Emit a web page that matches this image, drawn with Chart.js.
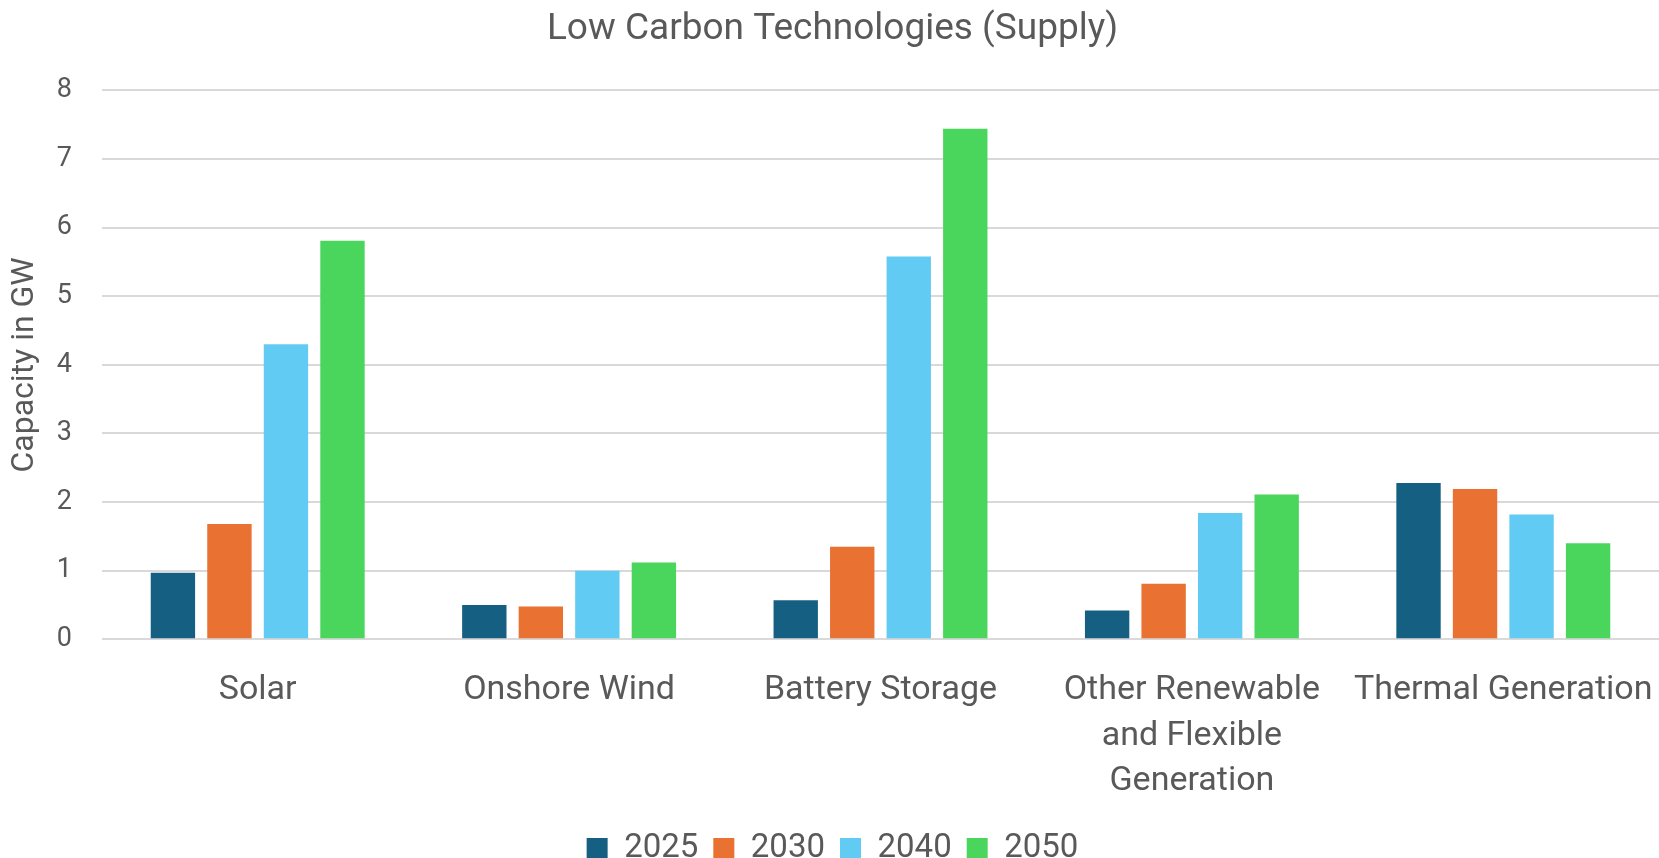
<!DOCTYPE html>
<html>
<head>
<meta charset="utf-8">
<title>Low Carbon Technologies (Supply)</title>
<script src="https://cdn.jsdelivr.net/npm/chart.js@4/dist/chart.umd.min.js"></script>
<style>
  html, body { margin: 0; padding: 0; background: #fff; overflow: hidden; }
  #wrap { width: 1659px; height: 858px; }
</style>
</head>
<body>
<div id="wrap"><canvas id="chart" width="1659" height="858"></canvas></div>
<script>
// categories (multi-line where the original wraps)
const categories = [
  'Solar',
  'Onshore Wind',
  'Battery Storage',
  ['Other Renewable', 'and Flexible', 'Generation'],
  'Thermal Generation'
];

// capacity in GW
const years = ['2025', '2030', '2040', '2050'];
const values2025 = [0.97, 0.50, 0.57, 0.42, 2.28];
const values2030 = [1.68, 0.48, 1.35, 0.81, 2.19];
const values2040 = [4.30, 1.00, 5.58, 1.84, 1.82];
const values2050 = [5.81, 1.12, 7.44, 2.11, 1.40];

const yTicks = [0, 1, 2, 3, 4, 5, 6, 7, 8];

const colors = ['#156082', '#E97132', '#61CBF3', '#4AD55C'];
const textColor = '#595959';
const fontFamily = 'Roboto, "Liberation Sans", sans-serif';

const seriesValues = [values2025, values2030, values2040, values2050];

const ctx = document.getElementById('chart').getContext('2d');
const chart = new Chart(ctx, {
  type: 'bar',
  data: {
    labels: categories,
    datasets: years.map((y, i) => ({
      label: y,
      data: seriesValues[i],
      backgroundColor: colors[i],
      borderWidth: 0,
      categoryPercentage: 0.726,
      barPercentage: 0.785
    }))
  },
  options: {
    responsive: false,
    animation: false,
    layout: { padding: { left: 6, right: 0, top: 8, bottom: -17 } },
    plugins: {
      title: {
        display: true,
        text: 'Low Carbon Technologies (Supply)',
        color: textColor,
        font: { family: fontFamily, size: 37, weight: 'normal' },
        padding: { top: 0, bottom: 38 }
      },
      legend: {
        position: 'bottom',
        labels: {
          color: textColor,
          font: { family: fontFamily, size: 33 },
          boxWidth: 21,
          boxHeight: 21,
          padding: 15
        }
      },
      tooltip: { enabled: false }
    },
    scales: {
      x: {
        grid: { display: false },
        border: { display: false },
        // bars fill the full width like the original; labels may hang over
        afterFit: axis => {
          axis.paddingLeft = 0;
          axis.paddingRight = 0;
          axis.height -= 8;
        },
        ticks: {
          color: textColor,
          font: { family: fontFamily, size: 34, lineHeight: 1.33 },
          padding: 21,
          maxRotation: 0,
          autoSkip: false
        }
      },
      y: {
        min: 0,
        max: 8,
        afterBuildTicks: axis => { axis.ticks = yTicks.map(v => ({ value: v })); },
        afterFit: axis => { axis.width = 96; },
        grid: { color: '#D9D9D9', lineWidth: 2, drawTicks: false },
        border: { display: false },
        ticks: {
          color: textColor,
          font: { family: fontFamily, size: 27 },
          padding: 30
        },
        title: {
          display: true,
          text: 'Capacity in GW',
          color: textColor,
          font: { family: fontFamily, size: 32 },
          padding: { top: 0, bottom: 0 }
        }
      }
    }
  }
});
</script>
</body>
</html>
